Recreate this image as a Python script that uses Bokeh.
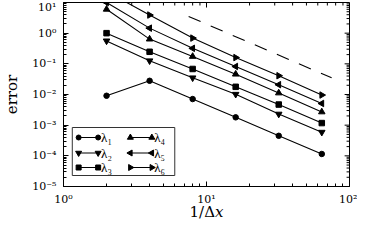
from bokeh.plotting import figure
from bokeh.models import (FixedTicker, CustomJSTickFormatter, Range1d, LinearScale, LinearAxis)
from bokeh.core.properties import value
from bokeh.embed import file_html
from bokeh.resources import INLINE
import math

# ---- data ----
dx_inv = [2, 4, 8, 16, 32, 64]
lam1 = [0.0091, 0.028, 0.0071, 0.0018, 0.00045, 0.000115]
lam2 = [0.56, 0.126, 0.035, 0.0102, 0.0023, 0.00059]
lam3 = [1.0, 0.247, 0.068, 0.0178, 0.0047, 0.00117]
lam4 = [6.0, 0.64, 0.174, 0.046, 0.0112, 0.0027]
lam5 = [10.0, 1.46, 0.32, 0.082, 0.0209, 0.0051]
lam6 = [23.0, 3.9, 0.69, 0.16, 0.041, 0.0096]
ref_x = [7.5, 75]
ref_y = [3.5, 0.035]
labels = ["λ₁", "λ₂", "λ₃", "λ₄", "λ₅", "λ₆"]
xticks = [1, 10, 100]
yticks = [1e-5, 1e-4, 1e-3, 1e-2, 1e-1, 1, 10]
xlabel = "1/Δ𝑥"
ylabel = "error"

FONT = "DejaVu Serif"
LEGFONT = "Liberation Serif"
W, H = 357, 227
FW, FH = 293, 184

p = figure(width=W, height=H, x_axis_type="log", y_axis_type="log",
           x_range=Range1d(1, 100), y_range=Range1d(1e-5, 10),
           output_backend="svg", toolbar_location=None,
           min_border_left=56, min_border_right=8, min_border_top=2, min_border_bottom=41)
p.xgrid.visible = False
p.ygrid.visible = False
p.outline_line_color = "black"
p.outline_line_width = 1
p.background_fill_color = "white"
p.border_fill_color = "white"

# frame-pixel helper ranges (for mirrored ticks, x title and the hand-drawn legend)
p.extra_x_ranges = {"px": Range1d(0, FW)}
p.extra_y_ranges = {"px": Range1d(0, FH)}
p.extra_x_scales = {"px": LinearScale()}
p.extra_y_scales = {"px": LinearScale()}

def minors(majors):
    out = []
    for m in majors[:-1]:
        out += [m * k for k in range(2, 10)]
    return out

fmt = CustomJSTickFormatter(code="""
const e = Math.round(Math.log10(tick));
const sup = {'-':'\u207b','0':'\u2070','1':'\u00b9','2':'\u00b2','3':'\u00b3','4':'\u2074','5':'\u2075','6':'\u2076','7':'\u2077','8':'\u2078','9':'\u2079'};
return '10' + String(e).split('').map(c => sup[c]).join('');
""")

def style(ax, ticks):
    ax.ticker = FixedTicker(ticks=ticks, minor_ticks=minors(ticks))
    ax.major_tick_in = 5
    ax.major_tick_out = 0
    ax.minor_tick_in = 3
    ax.minor_tick_out = 0
    ax.axis_line_color = "black"
    ax.major_tick_line_color = "black"
    ax.minor_tick_line_color = "black"
    ax.formatter = fmt
    ax.major_label_text_font = FONT
    ax.major_label_text_font_size = "11px"
    ax.major_label_text_color = "black"
    ax.axis_label_text_font = FONT
    ax.axis_label_text_font_size = "15px"
    ax.axis_label_text_font_style = "normal"
    ax.axis_label_text_color = "black"

style(p.xaxis[0], xticks)
style(p.yaxis[0], yticks)
p.yaxis[0].axis_label = ylabel
p.xaxis[0].major_label_standoff = 6
p.yaxis[0].major_label_standoff = 7
p.yaxis[0].axis_label_standoff = 8

# x title as a tick-less axis row stacked under the x axis (keeps layout compact)
title_axis = LinearAxis(x_range_name="px",
                        ticker=FixedTicker(ticks=[FW / 2], minor_ticks=[]),
                        formatter=CustomJSTickFormatter(args=dict(lab=xlabel), code="return lab;"))
title_axis.axis_line_color = None
title_axis.major_tick_line_color = None
title_axis.minor_tick_line_color = None
title_axis.major_tick_in = 0
title_axis.major_tick_out = 0
title_axis.minor_tick_in = 0
title_axis.minor_tick_out = 0
title_axis.major_label_standoff = -6
title_axis.major_label_text_font = FONT
title_axis.major_label_text_font_size = "15px"
title_axis.major_label_text_color = "black"
p.add_layout(title_axis, "below")

# mirrored ticks on the top and right frame edges
xminor = minors(xticks)
yminor = minors(yticks)
tick_kw = dict(line_color="black", line_width=1)
p.segment(x0=xticks, x1=xticks, y0=[FH] * len(xticks), y1=[FH - 5] * len(xticks), y_range_name="px", **tick_kw)
p.segment(x0=xminor, x1=xminor, y0=[FH] * len(xminor), y1=[FH - 3] * len(xminor), y_range_name="px", **tick_kw)
p.segment(x0=[FW] * len(yticks), x1=[FW - 5] * len(yticks), y0=yticks, y1=yticks, x_range_name="px", **tick_kw)
p.segment(x0=[FW] * len(yminor), x1=[FW - 3] * len(yminor), y0=yminor, y1=yminor, x_range_name="px", **tick_kw)

series = [lam1, lam2, lam3, lam4, lam5, lam6]
markers = [("circle", 0, 5.5), ("inverted_triangle", 0, 6.5), ("square", 0, 5.5),
           ("triangle", 0, 6.5), ("triangle", math.pi / 2, 6.5), ("triangle", -math.pi / 2, 6.5)]

for ys, (mk, ang, sz) in zip(series, markers):
    p.line(dx_inv, ys, line_color="black", line_width=1.1)
    p.scatter(dx_inv, ys, marker=mk, angle=ang, size=sz, fill_color="black", line_color="black")

p.line(ref_x, ref_y, line_color="black", line_width=1.1, line_dash="13 11")

# ---- hand-drawn legend (frame pixel units) ----
box = dict(left=9, right=114, bottom=11, top=59)
row_y = [49, 33.5, 19]
col_x = [(15.5, 35.5, 38.5), (68.5, 90.5, 93)]
p.quad(left=[box["left"]], right=[box["right"]], bottom=[box["bottom"]], top=[box["top"]],
       fill_color="white", line_color="#333333", line_width=1,
       x_range_name="px", y_range_name="px")
for i, (lab, (mk, ang, sz)) in enumerate(zip(labels, markers)):
    c, r = divmod(i, 3)
    x0, x1, xt = col_x[c]
    y = row_y[r]
    p.line([x0, x1], [y, y], line_color="black", line_width=1.1, x_range_name="px", y_range_name="px")
    p.scatter([x0, x1], [y, y], marker=mk, angle=ang, size=sz - 0.5, fill_color="black",
              line_color="black", x_range_name="px", y_range_name="px")
    p.text([xt], [y], text=[lab], text_font=value(LEGFONT), text_font_size="13px",
           text_baseline="middle", text_align="left", text_color="black",
           x_range_name="px", y_range_name="px")

open("out.html", "w").write(file_html(p, INLINE))
